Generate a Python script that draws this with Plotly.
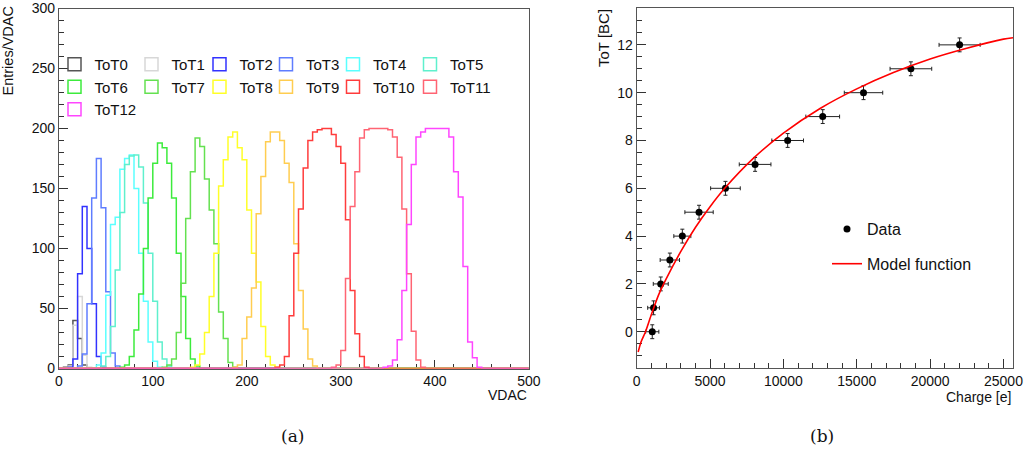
import plotly.graph_objects as go

W, H = 1024, 452

# ---------------- Left panel data: ToT histograms (bin width 5 VDAC) ----------------
BIN_WIDTH = 5
VDAC_MAX = 500
tot_names = ["ToT0", "ToT1", "ToT2", "ToT3", "ToT4", "ToT5", "ToT6",
             "ToT7", "ToT8", "ToT9", "ToT10", "ToT11", "ToT12"]
# lower edge (VDAC) of the first listed bin of each histogram
hist_start = [5, 10, 10, 20, 40, 45, 65, 110, 140, 185, 230, 290, 345]
tot0_counts = [1, 3, 40, 25, 3]
tot1_counts = [2, 36, 60, 11, 1]
tot2_counts = [1, 8, 79, 135, 100, 54, 10, 1]
tot3_counts = [2, 12, 54, 142, 175, 134, 64, 13, 2]
tot4_counts = [3, 13, 61, 120, 126, 166, 175, 178, 150, 96, 56, 22, 6, 1]
tot5_counts = [2, 10, 35, 82, 130, 170, 177, 178, 168, 138, 96, 56, 22, 8, 2]
tot6_counts = [1, 3, 10, 32, 62, 100, 142, 171, 188, 184, 171, 142, 96, 60, 25, 8, 2]
tot7_counts = [1, 3, 8, 30, 71, 125, 164, 192, 185, 158, 132, 104, 47, 25, 5, 1]
tot8_counts = [1, 3, 12, 30, 60, 96, 152, 174, 193, 197, 184, 174, 132, 96, 72, 35, 10, 3, 1]
tot9_counts = [1, 3, 25, 43, 67, 129, 160, 189, 197, 197, 190, 171, 155, 104, 65, 33, 8, 2]
tot10_counts = [1, 3, 10, 44, 96, 133, 167, 190, 197, 199, 200, 200, 195, 185, 171, 124, 65, 29, 10, 1]
tot11_counts = [1, 3, 15, 75, 135, 164, 192, 199, 200, 200, 200, 200, 199, 193, 176, 133, 79, 31, 7, 1]
tot12_counts = [1, 2, 7, 24, 65, 120, 170, 193, 197, 200, 200, 200, 200, 200, 193, 164, 143, 85, 22, 9, 1]
hist_counts = [tot0_counts, tot1_counts, tot2_counts, tot3_counts, tot4_counts,
               tot5_counts, tot6_counts, tot7_counts, tot8_counts, tot9_counts,
               tot10_counts, tot11_counts, tot12_counts]

# ---------------- Right panel data: calibration ----------------
tot_values = [0, 1, 2, 3, 4, 5, 6, 7, 8, 9, 10, 11, 12]
charge_values = [1060, 1150, 1640, 2260, 3110, 4250, 6050, 8070, 10290, 12680, 15460, 18690, 22010]
charge_err = [450, 400, 510, 660, 580, 965, 1010, 1080, 1080, 1150, 1310, 1420, 1400]
tot_err = [0.29, 0.29, 0.29, 0.29, 0.29, 0.29, 0.29, 0.29, 0.29, 0.29, 0.29, 0.29, 0.29]
model_charge = [100, 300, 600, 1000, 1500, 2000, 3000, 4000, 5000, 6000, 8000,
                10000, 12500, 15000, 17500, 20000, 22500, 25000, 25650]
model_tot = [-0.85, -0.42, 0.0, 0.72, 1.55, 2.2, 3.35, 4.36, 5.23, 6.0, 7.28,
             8.31, 9.34, 10.16, 10.84, 11.41, 11.86, 12.24, 12.3]

# ---------------- styles ----------------
colors = ["rgb(85,85,85)", "rgb(215,215,215)", "rgb(50,50,255)", "rgb(95,125,255)",
          "rgb(90,255,255)", "rgb(95,240,205)", "rgb(60,235,60)", "rgb(100,225,80)",
          "rgb(255,255,40)", "rgb(255,205,80)", "rgb(255,60,60)", "rgb(255,100,115)",
          "rgb(255,70,255)"]
SANS = "Liberation Sans, Arial, sans-serif"
FRAME = "#555555"
TICKC = "#333333"

fig = go.Figure()

edges = list(range(0, VDAC_MAX + BIN_WIDTH, BIN_WIDTH))
nbins = len(edges) - 1
for name, start, counts, col in zip(tot_names, hist_start, hist_counts, colors):
    full = [0] * nbins
    for j, c in enumerate(counts):
        full[start // BIN_WIDTH + j] = c
    fig.add_trace(go.Scatter(
        x=edges, y=full + [full[-1]], mode="lines", line=dict(color=col, width=1.5, shape="hv"),
        showlegend=False, xaxis="x", yaxis="y", hoverinfo="skip"))

# legend columns (6 columns, like the ROOT TLegend)
col_of = [1, 2, 3, 4, 5, 6, 1, 2, 3, 4, 5, 6, 1]
for name, col, c in zip(tot_names, colors, col_of):
    fig.add_trace(go.Scatter(
        x=[None], y=[None], mode="markers", name=name,
        marker=dict(symbol="square-open", size=13, color=col, line=dict(width=1.5, color=col)),
        legend="legend" if c == 1 else f"legend{c}", xaxis="x", yaxis="y"))

# right panel
fig.add_trace(go.Scatter(
    x=charge_values, y=tot_values, mode="markers", name="Data",
    marker=dict(symbol="circle", size=7, color="black"),
    error_x=dict(type="data", array=charge_err, color="#222222", thickness=1, width=2),
    error_y=dict(type="data", array=tot_err, color="#222222", thickness=1, width=2),
    xaxis="x2", yaxis="y2", legend="legend7", legendgroup="d"))
fig.add_trace(go.Scatter(
    x=model_charge, y=model_tot, mode="lines", name="Model function",
    line=dict(color="rgb(255,0,0)", width=1.6, shape="spline", smoothing=0.8),
    xaxis="x2", yaxis="y2", legend="legend7", legendgroup="m"))

def px_x(p):
    return p / W

def px_y(p):
    return 1 - p / H

axis_common = dict(showline=True, mirror=True, linecolor=FRAME, linewidth=1,
                   ticks="inside", tickcolor=TICKC, ticklen=9, tickwidth=1,
                   showgrid=False, zeroline=False, layer="below traces", automargin=False,
                   tickfont=dict(family=SANS, size=14, color="#111111"))

fig.update_layout(
    width=W, height=H, margin=dict(l=0, r=0, t=0, b=0, autoexpand=False),
    paper_bgcolor="white", plot_bgcolor="white",
    xaxis=dict(domain=[px_x(58.8), px_x(528.8)], range=[0, 500], tickvals=[0, 100, 200, 300, 400, 500],
               minor=dict(dtick=20, ticklen=5, ticks="inside", tickcolor=TICKC), anchor="y", **axis_common),
    yaxis=dict(domain=[px_y(368.5), px_y(8.5)], range=[0, 300], tickvals=[0, 50, 100, 150, 200, 250, 300],
               minor=dict(dtick=10, ticklen=5, ticks="inside", tickcolor=TICKC), anchor="x", **axis_common),
    xaxis2=dict(domain=[px_x(636.7), px_x(1013)], range=[0, 25650],
                tickvals=[0, 5000, 10000, 15000, 20000, 25000], tickformat="d",
                minor=dict(dtick=1000, ticklen=5, ticks="inside", tickcolor=TICKC), anchor="y2", **axis_common),
    yaxis2=dict(domain=[px_y(368.3), px_y(8.3)], range=[-1.53, 13.53], tickvals=[0, 2, 4, 6, 8, 10, 12],
                minor=dict(dtick=0.5, ticklen=5, ticks="inside", tickcolor=TICKC), anchor="x2", **axis_common),
)

leg_font = dict(family=SANS, size=15, color="#111111")
col_left = [54.5, 131.5, 199.5, 266, 333, 410]
for i, xl in enumerate(col_left):
    key = "legend" if i == 0 else f"legend{i + 1}"
    fig.update_layout({key: dict(x=px_x(xl), xanchor="left", y=px_y(48), yanchor="top",
                                 bgcolor="rgba(0,0,0,0)", borderwidth=0, font=leg_font,
                                 orientation="v", tracegroupgap=0)})
fig.update_layout(legend7=dict(x=px_x(827), xanchor="left", y=px_y(212), yanchor="top",
                               bgcolor="rgba(0,0,0,0)", borderwidth=0,
                               font=dict(family=SANS, size=16, color="#111111"),
                               orientation="v", tracegroupgap=11))

ann = [
    dict(text="Entries/VDAC", x=px_x(8), y=px_y(5), xanchor="center", yanchor="top", textangle=-90,
         font=dict(family=SANS, size=14.5, color="#111111")),
    dict(text="VDAC", x=px_x(529), y=px_y(395), xanchor="right", yanchor="middle",
         font=dict(family=SANS, size=14, color="#111111")),
    dict(text="ToT [BC]", x=px_x(604), y=px_y(7), xanchor="center", yanchor="top", textangle=-90,
         font=dict(family=SANS, size=15, color="#111111")),
    dict(text="Charge [e]", x=px_x(1013), y=px_y(397), xanchor="right", yanchor="middle",
         font=dict(family=SANS, size=14, color="#111111")),
    dict(text="(a)", x=px_x(292), y=px_y(436), xanchor="center", yanchor="middle",
         font=dict(family="DejaVu Serif, serif", size=17, color="#111111")),
    dict(text="(b)", x=px_x(822), y=px_y(436), xanchor="center", yanchor="middle",
         font=dict(family="DejaVu Serif, serif", size=17, color="#111111")),
]
for a in ann:
    a.update(xref="paper", yref="paper", showarrow=False)
fig.update_layout(annotations=ann)

fig.write_html("out.html")
